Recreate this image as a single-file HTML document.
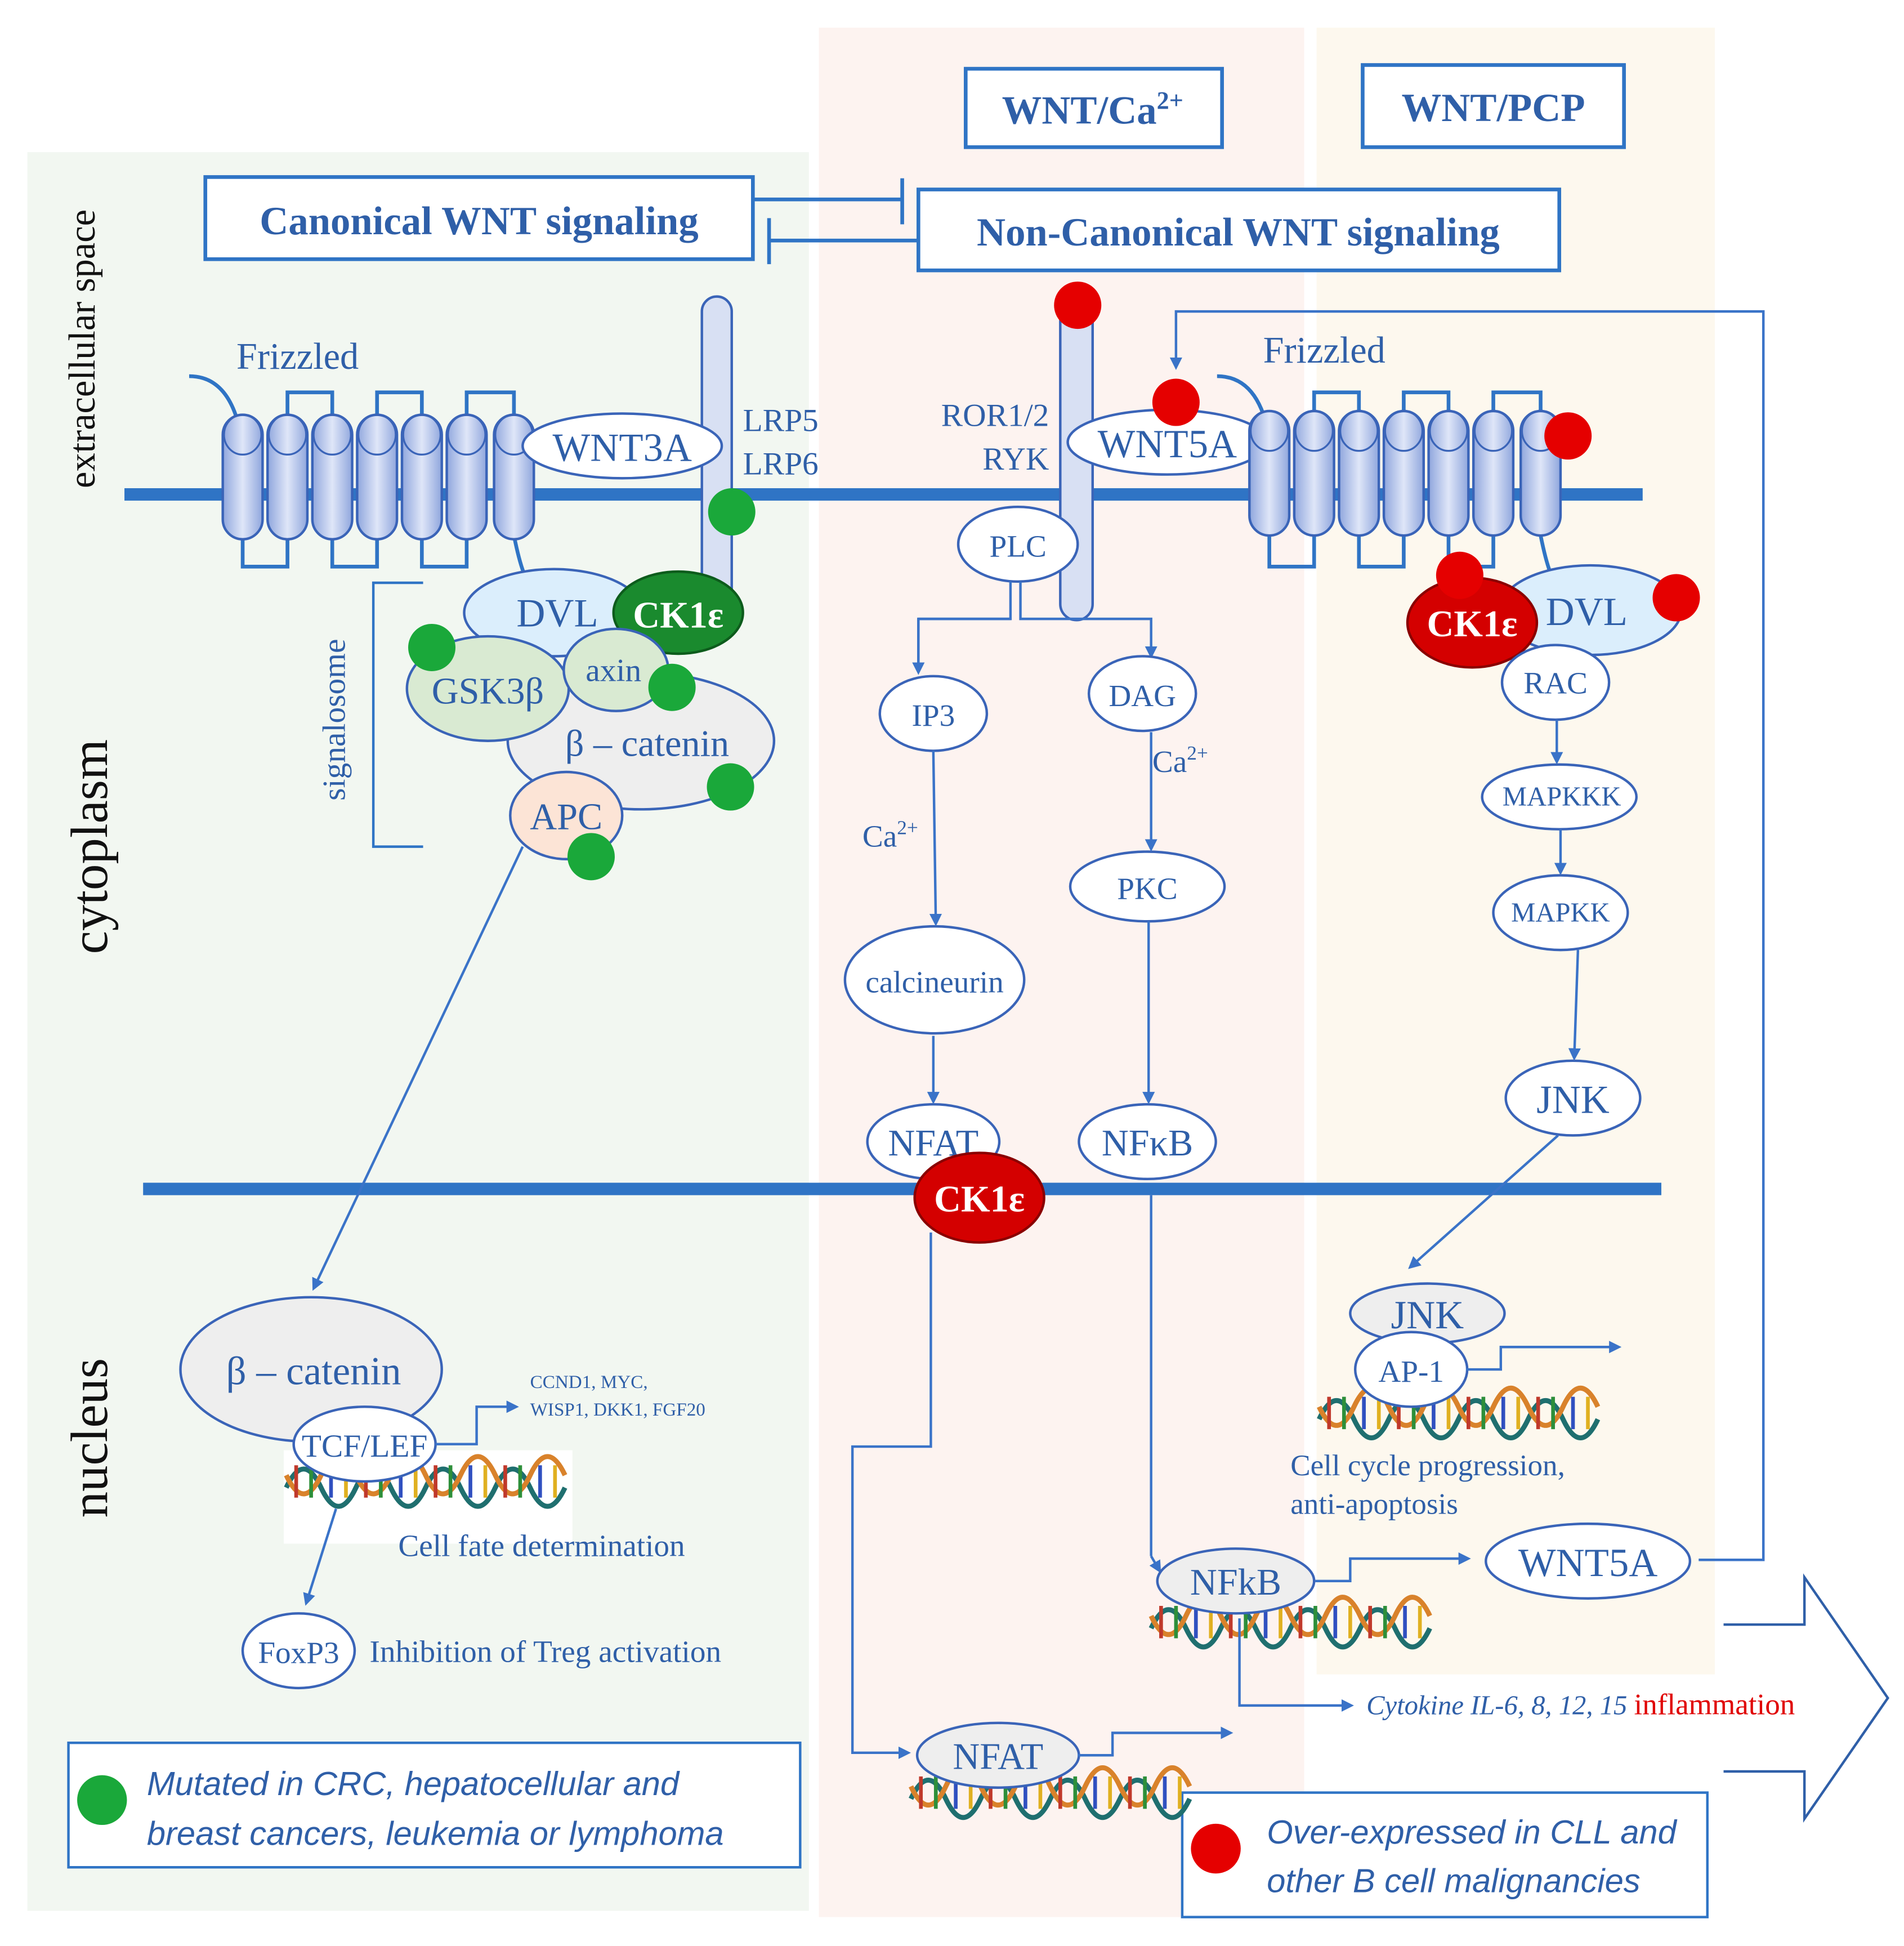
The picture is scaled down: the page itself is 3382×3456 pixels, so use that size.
<!DOCTYPE html>
<html><head><meta charset="utf-8"><style>
html,body{margin:0;padding:0;background:#fff}
svg{display:block}
text{font-family:"Liberation Serif",serif;fill:#2f5fa8}
</style></head><body>
<svg width="3382" height="3456" viewBox="0 0 1530 1563" xmlns="http://www.w3.org/2000/svg">
<defs>
<linearGradient id="cyl" x1="0" x2="1" y1="0" y2="0">
<stop offset="0" stop-color="#8fa6dd"/><stop offset="0.5" stop-color="#dfe6f8"/><stop offset="1" stop-color="#8fa6dd"/></linearGradient>
<marker id="ar" markerWidth="10" markerHeight="10" refX="8" refY="5" orient="auto" markerUnits="userSpaceOnUse"><path d="M0,0 L10,5 L0,10 z" fill="#3a73c8"/></marker>
<g id="dna">
<path d="M0,20 q14,-30 28,0 t28,0 t28,0 t28,0 t28,0 t28,0 t28,0 t28,0" fill="none" stroke="#1f6f6f" stroke-width="4"/>
<path d="M0,10 q14,30 28,0 t28,0 t28,0 t28,0 t28,0 t28,0 t28,0 t28,0" fill="none" stroke="#d9822b" stroke-width="4"/>
<g stroke-width="3">
<line x1="8" y1="2" x2="8" y2="28" stroke="#c0392b"/><line x1="20" y1="2" x2="20" y2="28" stroke="#2d8f3a"/>
<line x1="36" y1="2" x2="36" y2="28" stroke="#3050c0"/><line x1="48" y1="2" x2="48" y2="28" stroke="#e0b020"/>
<line x1="64" y1="2" x2="64" y2="28" stroke="#c0392b"/><line x1="76" y1="2" x2="76" y2="28" stroke="#2d8f3a"/>
<line x1="92" y1="2" x2="92" y2="28" stroke="#3050c0"/><line x1="104" y1="2" x2="104" y2="28" stroke="#e0b020"/>
<line x1="120" y1="2" x2="120" y2="28" stroke="#c0392b"/><line x1="132" y1="2" x2="132" y2="28" stroke="#2d8f3a"/>
<line x1="148" y1="2" x2="148" y2="28" stroke="#3050c0"/><line x1="160" y1="2" x2="160" y2="28" stroke="#e0b020"/>
<line x1="176" y1="2" x2="176" y2="28" stroke="#c0392b"/><line x1="188" y1="2" x2="188" y2="28" stroke="#2d8f3a"/>
<line x1="204" y1="2" x2="204" y2="28" stroke="#3050c0"/><line x1="216" y1="2" x2="216" y2="28" stroke="#e0b020"/>
</g></g>
<g id="cy"><rect x="-16" y="-50" width="32" height="100" rx="16" fill="url(#cyl)" stroke="#3a64b8" stroke-width="2"/><ellipse cx="0" cy="-34" rx="15" ry="16" fill="none" stroke="#3a64b8" stroke-width="1.5"/></g>
</defs>
<rect width="1530" height="1563" fill="#fff"/>
<rect x="22" y="122" width="628" height="1413" fill="#f2f7f1"/>
<rect x="658" y="22" width="390" height="1518" fill="#fdf3f0"/>
<rect x="1058" y="22" width="320" height="1323" fill="#fdf8ee"/>

<g fill="#fff" stroke="#2f74c5" stroke-width="3">
<rect x="165" y="142" width="440" height="66"/>
<rect x="738" y="152" width="515" height="65"/>
<rect x="776" y="55" width="206" height="63"/>
<rect x="1095" y="52" width="210" height="66"/>
<rect x="55" y="1400" width="588" height="100" stroke-width="2"/>
<rect x="950" y="1440" width="422" height="100" stroke-width="2"/>
</g>
<g font-weight="bold" font-size="32" text-anchor="middle">
<text x="385" y="188">Canonical WNT signaling</text>
<text x="995" y="197">Non-Canonical WNT signaling</text>
<text x="878" y="99">WNT/Ca<tspan font-size="20" dy="-12">2+</tspan></text>
<text x="1200" y="97">WNT/PCP</text>
</g>
<g stroke="#2f74c5" stroke-width="3" fill="none">
<line x1="605" y1="160" x2="725" y2="160"/><line x1="725" y1="143" x2="725" y2="180"/>
<line x1="738" y1="193" x2="618" y2="193"/><line x1="618" y1="175" x2="618" y2="212"/>
</g>

<text transform="translate(76,280) rotate(-90)" font-size="30" text-anchor="middle" fill="#111" style="fill:#111">extracellular space</text>
<text transform="translate(86,680) rotate(-90)" font-size="42" text-anchor="middle" style="fill:#111">cytoplasm</text>
<text transform="translate(86,1155) rotate(-90)" font-size="42" text-anchor="middle" style="fill:#111">nucleus</text>

<!-- membranes -->
<rect x="100" y="392" width="1220" height="10" fill="#2f74c5"/>
<rect x="115" y="950" width="1220" height="10" fill="#2f74c5"/>

<!-- left frizzled -->
<path d="M152,302 q30,0 40,40 M195,430 v25 h36 v-25 M231,335 v-20 h36 v20 M267,430 v25 h36 v-25 M303,335 v-20 h36 v20 M339,430 v25 h36 v-25 M375,335 v-20 h38 v20 M413,430 q5,25 10,35" fill="none" stroke="#2f74c5" stroke-width="3"/>
<use href="#cy" x="195" y="383"/><use href="#cy" x="231" y="383"/><use href="#cy" x="267" y="383"/><use href="#cy" x="303" y="383"/><use href="#cy" x="339" y="383"/><use href="#cy" x="375" y="383"/><use href="#cy" x="413" y="383"/>
<text x="190" y="296" font-size="30">Frizzled</text>
<rect x="564" y="238" width="24" height="252" rx="12" fill="#d8e0f3" stroke="#3a64b8" stroke-width="2"/>
<ellipse cx="500" cy="358" rx="80" ry="26" fill="#fff" stroke="#3a64b8" stroke-width="2"/>
<text x="500" y="370" font-size="32" text-anchor="middle">WNT3A</text>
<text x="597" y="346" font-size="26">LRP5</text><text x="597" y="381" font-size="26">LRP6</text>

<!-- signalosome -->
<path d="M340,468 h-40 v212 h40" fill="none" stroke="#2f74c5" stroke-width="2"/>
<text transform="translate(277,578) rotate(-90)" font-size="26" text-anchor="middle">signalosome</text>
<ellipse cx="445" cy="492" rx="72" ry="35" fill="#dbeefc" stroke="#3a64b8" stroke-width="2"/>
<text x="415" y="503" font-size="32">DVL</text>
<ellipse cx="545" cy="492" rx="52" ry="33" fill="#1a8a2e" stroke="#0d5c1c" stroke-width="2"/>
<text x="545" y="504" font-size="30" font-weight="bold" text-anchor="middle" style="fill:#fff">CK1ε</text>
<ellipse cx="515" cy="595" rx="107" ry="55" fill="#eeeeee" stroke="#3a64b8" stroke-width="2"/>
<text x="520" y="607" font-size="30" text-anchor="middle">β – catenin</text>
<ellipse cx="392" cy="553" rx="65" ry="42" fill="#d9ead2" stroke="#3a64b8" stroke-width="2"/>
<text x="392" y="565" font-size="30" text-anchor="middle">GSK3β</text>
<ellipse cx="495" cy="538" rx="42" ry="33" fill="#d9ead2" stroke="#3a64b8" stroke-width="2"/>
<text x="493" y="547" font-size="26" text-anchor="middle">axin</text>
<ellipse cx="455" cy="655" rx="45" ry="35" fill="#fce4d6" stroke="#3a64b8" stroke-width="2"/>
<text x="455" y="666" font-size="30" text-anchor="middle">APC</text>
<g fill="#1aa83a"><circle cx="588" cy="411" r="19"/><circle cx="347" cy="520" r="19"/><circle cx="540" cy="552" r="19"/><circle cx="587" cy="632" r="19"/><circle cx="475" cy="688" r="19"/></g>
<line x1="420" y1="680" x2="252" y2="1035" stroke="#3a73c8" stroke-width="2" marker-end="url(#ar)"/>

<!-- canonical nucleus -->
<rect x="228" y="1165" width="232" height="75" fill="#fff"/>
<use href="#dna" x="230" y="1175" transform="scale(1)"/>
<ellipse cx="250" cy="1100" rx="105" ry="58" fill="#eeeeee" stroke="#3a64b8" stroke-width="2"/>
<text x="252" y="1112" font-size="32" text-anchor="middle">β – catenin</text>
<ellipse cx="293" cy="1160" rx="57" ry="30" fill="#fff" stroke="#3a64b8" stroke-width="2"/>
<text x="293" y="1170" font-size="26" text-anchor="middle">TCF/LEF</text>
<path d="M350,1160 h33 v-30 h32" fill="none" stroke="#3a73c8" stroke-width="2" marker-end="url(#ar)"/>
<text x="426" y="1115" font-size="15">CCND1, MYC,</text><text x="426" y="1137" font-size="15">WISP1, DKK1, FGF20</text>
<text x="320" y="1250" font-size="25">Cell fate determination</text>
<line x1="270" y1="1212" x2="246" y2="1288" stroke="#3a73c8" stroke-width="2" marker-end="url(#ar)"/>
<ellipse cx="240" cy="1326" rx="45" ry="30" fill="#fff" stroke="#3a64b8" stroke-width="2"/>
<text x="240" y="1336" font-size="25" text-anchor="middle">FoxP3</text>
<text x="297" y="1335" font-size="25">Inhibition of Treg activation</text>
<circle cx="82" cy="1446" r="20" fill="#1aa83a"/>
<g font-family="Liberation Sans" font-style="italic" font-size="27"><text x="118" y="1442" style="font-family:'Liberation Sans',sans-serif">Mutated in CRC, hepatocellular and</text><text x="118" y="1482" style="font-family:'Liberation Sans',sans-serif">breast cancers, leukemia or lymphoma</text></g>

<!-- middle: ROR -->
<rect x="852" y="245" width="26" height="253" rx="13" fill="#d8e0f3" stroke="#3a64b8" stroke-width="2"/>
<circle cx="866" cy="245" r="19" fill="#e50000"/>
<text x="843" y="342" font-size="26" text-anchor="end">ROR1/2</text>
<text x="843" y="377" font-size="26" text-anchor="end">RYK</text>
<ellipse cx="938" cy="355" rx="80" ry="26" fill="#fff" stroke="#3a64b8" stroke-width="2"/>
<text x="938" y="367" font-size="32" text-anchor="middle">WNT5A</text>
<circle cx="945" cy="323" r="19" fill="#e50000"/>
<ellipse cx="818" cy="437" rx="48" ry="30" fill="#fff" stroke="#3a64b8" stroke-width="2"/>
<text x="818" y="447" font-size="25" text-anchor="middle">PLC</text>
<path d="M812,467 v30 h-74 v38 M820,467 v30 h105 v30" fill="none" stroke="#3a73c8" stroke-width="2" marker-end="url(#ar)"/>
<line x1="812" y1="497" x2="738" y2="497" stroke="#3a73c8" stroke-width="2"/>
<line x1="738" y1="497" x2="738" y2="540" stroke="#3a73c8" stroke-width="2" marker-end="url(#ar)"/>
<g fill="#fff" stroke="#3a64b8" stroke-width="2">
<ellipse cx="750" cy="573" rx="43" ry="30"/><ellipse cx="918" cy="557" rx="43" ry="30"/>
<ellipse cx="922" cy="712" rx="62" ry="28"/><ellipse cx="751" cy="787" rx="72" ry="43"/>
<ellipse cx="750" cy="917" rx="53" ry="30"/><ellipse cx="922" cy="917" rx="55" ry="30"/>
</g>
<text x="750" y="583" font-size="25" text-anchor="middle">IP3</text>
<text x="918" y="567" font-size="25" text-anchor="middle">DAG</text>
<text x="922" y="722" font-size="25" text-anchor="middle">PKC</text>
<text x="751" y="797" font-size="25" text-anchor="middle">calcineurin</text>
<text x="750" y="928" font-size="30" text-anchor="middle">NFAT</text>
<text x="922" y="928" font-size="30" text-anchor="middle">NFκB</text>
<text x="693" y="680" font-size="25">Ca<tspan font-size="16" dy="-10">2+</tspan></text>
<text x="926" y="620" font-size="25">Ca<tspan font-size="16" dy="-10">2+</tspan></text>
<g stroke="#3a73c8" stroke-width="2" fill="none" marker-end="url(#ar)">
<line x1="750" y1="603" x2="752" y2="742"/><line x1="925" y1="588" x2="925" y2="682"/>
<line x1="750" y1="832" x2="750" y2="885"/><line x1="923" y1="740" x2="923" y2="885"/>
</g>
<ellipse cx="787" cy="962" rx="52" ry="36" fill="#d40000" stroke="#8a0000" stroke-width="2"/>
<text x="787" y="973" font-size="30" font-weight="bold" text-anchor="middle" style="fill:#fff">CK1ε</text>
<path d="M748,990 v172 h-63 v246 h45" fill="none" stroke="#3a73c8" stroke-width="2" marker-end="url(#ar)"/>
<path d="M925,960 v290" fill="none" stroke="#3a73c8" stroke-width="2"/>
<line x1="925" y1="1250" x2="932" y2="1262" stroke="#3a73c8" stroke-width="2" marker-end="url(#ar)"/>
<!-- nfat bottom -->
<use href="#dna" x="732" y="1425"/>
<ellipse cx="802" cy="1410" rx="65" ry="26" fill="#eeeeee" stroke="#3a64b8" stroke-width="2"/>
<text x="802" y="1421" font-size="30" text-anchor="middle">NFAT</text>
<path d="M866,1410 h28 v-18 h95" fill="none" stroke="#3a73c8" stroke-width="2" marker-end="url(#ar)"/>
<!-- nfkb bottom -->
<use href="#dna" x="925" y="1288"/>
<ellipse cx="993" cy="1270" rx="63" ry="26" fill="#eeeeee" stroke="#3a64b8" stroke-width="2"/>
<text x="993" y="1281" font-size="30" text-anchor="middle">NFkB</text>
<path d="M1057,1270 h28 v-18 h95" fill="none" stroke="#3a73c8" stroke-width="2" marker-end="url(#ar)"/>
<path d="M996,1300 v70 h90" fill="none" stroke="#3a73c8" stroke-width="2" marker-end="url(#ar)"/>
<text x="1098" y="1377" font-size="22" font-style="italic">Cytokine IL-6, 8, 12, 15 <tspan style="fill:#e00000" font-style="normal" font-size="24">inflammation</tspan></text>
<path d="M1385,1305 h65 v-38 l67,97 l-67,97 v-38 h-65" fill="none" stroke="#2f5fa8" stroke-width="2"/>

<!-- right frizzled -->
<path d="M978,302 q30,0 40,40 M1020,430 v25 h36 v-25 M1056,335 v-20 h36 v20 M1092,430 v25 h36 v-25 M1128,335 v-20 h36 v20 M1164,430 v25 h36 v-25 M1200,335 v-20 h38 v20 M1238,430 q5,25 10,35" fill="none" stroke="#2f74c5" stroke-width="3"/>
<use href="#cy" x="1020" y="380"/><use href="#cy" x="1056" y="380"/><use href="#cy" x="1092" y="380"/><use href="#cy" x="1128" y="380"/><use href="#cy" x="1164" y="380"/><use href="#cy" x="1200" y="380"/><use href="#cy" x="1238" y="380"/>
<text x="1015" y="291" font-size="30">Frizzled</text>
<circle cx="1260" cy="350" r="19" fill="#e50000"/>
<path d="M1365,1253 h52 v-1003 h-472 v45" fill="none" stroke="#3a73c8" stroke-width="2" marker-end="url(#ar)"/>
<ellipse cx="1278" cy="490" rx="73" ry="36" fill="#dbeefc" stroke="#3a64b8" stroke-width="2"/>
<text x="1275" y="502" font-size="32" text-anchor="middle">DVL</text>
<ellipse cx="1183" cy="500" rx="52" ry="36" fill="#d40000" stroke="#8a0000" stroke-width="2"/>
<text x="1183" y="511" font-size="30" font-weight="bold" text-anchor="middle" style="fill:#fff">CK1ε</text>
<circle cx="1173" cy="462" r="19" fill="#e50000"/><circle cx="1347" cy="480" r="19" fill="#e50000"/>
<g fill="#fff" stroke="#3a64b8" stroke-width="2">
<ellipse cx="1250" cy="548" rx="43" ry="30"/><ellipse cx="1253" cy="640" rx="62" ry="26"/>
<ellipse cx="1254" cy="733" rx="54" ry="30"/><ellipse cx="1264" cy="882" rx="54" ry="30"/>
<ellipse cx="1276" cy="1254" rx="82" ry="30"/>
</g>
<text x="1250" y="557" font-size="25" text-anchor="middle">RAC</text>
<text x="1255" y="647" font-size="22" text-anchor="middle">MAPKKK</text>
<text x="1254" y="740" font-size="22" text-anchor="middle">MAPKK</text>
<text x="1264" y="894" font-size="32" text-anchor="middle">JNK</text>
<text x="1276" y="1266" font-size="32" text-anchor="middle">WNT5A</text>
<g stroke="#3a73c8" stroke-width="2" fill="none" marker-end="url(#ar)">
<line x1="1251" y1="578" x2="1251" y2="612"/><line x1="1254" y1="666" x2="1254" y2="701"/>
<line x1="1268" y1="763" x2="1265" y2="850"/><line x1="1252" y1="912" x2="1133" y2="1018"/>
</g>
<use href="#dna" x="1060" y="1120"/>
<ellipse cx="1147" cy="1055" rx="62" ry="24" fill="#eeeeee" stroke="#3a64b8" stroke-width="2"/>
<text x="1147" y="1067" font-size="32" text-anchor="middle">JNK</text>
<ellipse cx="1134" cy="1100" rx="45" ry="30" fill="#fff" stroke="#3a64b8" stroke-width="2"/>
<text x="1134" y="1110" font-size="25" text-anchor="middle">AP-1</text>
<path d="M1178,1100 h28 v-18 h95" fill="none" stroke="#3a73c8" stroke-width="2" marker-end="url(#ar)"/>
<text x="1037" y="1185" font-size="24">Cell cycle progression,</text>
<text x="1037" y="1216" font-size="24">anti-apoptosis</text>
<circle cx="977" cy="1485" r="20" fill="#e50000"/>
<text x="1018" y="1481" font-size="27" font-style="italic" style="font-family:'Liberation Sans',sans-serif">Over-expressed in CLL and</text>
<text x="1018" y="1520" font-size="27" font-style="italic" style="font-family:'Liberation Sans',sans-serif">other B cell malignancies</text>
</svg>
</body></html>
